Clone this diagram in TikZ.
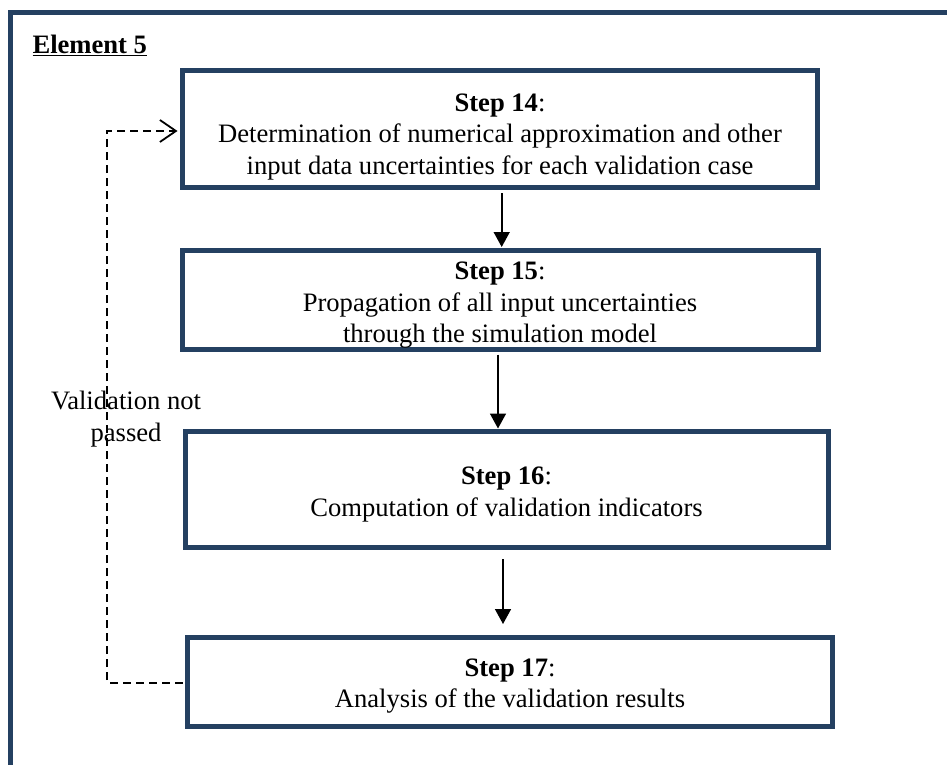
\documentclass[tikz,border=0pt]{standalone}
\usepackage{fontspec}
\setmainfont{Liberation Serif}
\usetikzlibrary{arrows.meta}
\definecolor{frameblue}{RGB}{36,64,97}
\begin{document}
\begin{tikzpicture}[x=1pt,y=-1pt,
  txt/.style={font=\fontsize{26.6}{31.5}\selectfont, align=center},
  stepbox/.style={draw=frameblue, line width=5pt, inner sep=0pt},
  flow/.style={line width=1.6pt, -{Triangle[length=15pt,width=16pt]}},
  loopback/.style={line width=2pt, dash pattern=on 8pt off 5pt, -{Straight Barb[length=16pt,width=22pt,line width=1.8pt]}}]
  \useasboundingbox (0,0) rectangle (947,765);
  % outer frame (top and left sides)
  \draw[frameblue, line width=5pt] (10.8,765) -- (10.8,12.5) -- (947,12.5);
  \node[txt, anchor=west] (title) at (29,45) {\textbf{\underline{Element 5}}};
  % process steps: frames
  \node[stepbox, minimum width=635pt, minimum height=117pt] (s14) at (500,129) {};
  \node[stepbox, minimum width=636pt, minimum height=99pt] (s15) at (500,299.5) {};
  \node[stepbox, minimum width=643pt, minimum height=116pt] (s16) at (506.5,489.5) {};
  \node[stepbox, minimum width=645pt, minimum height=89pt] (s17) at (510,682) {};
  % process steps: texts
  \node[txt] (t14) at ([yshift=-8pt]s14.center)
    {\textbf{Step 14}:\\Determination of numerical approximation and other\\input data uncertainties for each validation case};
  \node[txt] (t15) at ([yshift=-6pt]s15.center)
    {\textbf{Step 15}:\\Propagation of all input uncertainties\\through the simulation model};
  \node[txt] (t16) at ([yshift=-5pt]s16.center)
    {\textbf{Step 16}:\\Computation of validation indicators};
  \node[txt] (t17) at ([yshift=-4pt]s17.center)
    {\textbf{Step 17}:\\Analysis of the validation results};
  % forward arrows
  \draw[flow] ([xshift=1.7pt,yshift=-3pt]s14.south) -- ([xshift=1.7pt,yshift=0.5pt]s15.north);
  \draw[flow] ([xshift=-2pt,yshift=-3pt]s15.south) -- ([xshift=-8.5pt,yshift=0.5pt]s16.north);
  \draw[flow] ([xshift=-3.5pt,yshift=-9pt]s16.south) -- ([xshift=-7pt,yshift=11pt]s17.north);
  % feedback loop
  \coordinate (lb) at (107.3,683);
  \coordinate (lt) at (107.3,131);
  \draw[loopback] ([xshift=-2.5pt]s17.west |- lb) -- (lb) -- (lt) -- ([xshift=-2.5pt]s14.west |- lt);
  \node[txt] (fail) at (126,419) {Validation not\\passed};
\end{tikzpicture}
\end{document}
